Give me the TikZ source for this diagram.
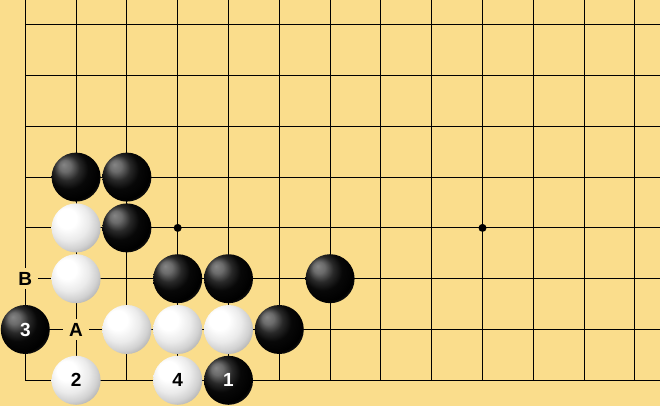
\documentclass[tikz,border=0pt]{standalone}
\usepackage{fontspec}
\setmainfont{Liberation Sans}
\definecolor{board}{RGB}{250,221,140}
\pgfdeclareradialshading{blackstone}{\pgfpoint{-13bp}{13bp}}{color(0bp)=(black!48); color(6bp)=(black!58); color(13bp)=(black!84); color(20bp)=(black!97); color(29bp)=(black); color(33bp)=(black!88); color(36bp)=(black!72); color(50bp)=(black!72)}
\pgfdeclareradialshading{whitestone}{\pgfpoint{-12bp}{12bp}}{color(0bp)=(white); color(10bp)=(white); color(20bp)=(black!8); color(27bp)=(black!18); color(32bp)=(black!30); color(35bp)=(black!45); color(50bp)=(black!45)}
\begin{document}
\begin{tikzpicture}[x=50.8pt,y=-50.8pt,ampersand replacement=\&,
  stone/.style={circle,minimum size=49pt,inner sep=0pt,outer sep=0pt,font=\bfseries\fontsize{19}{19}\selectfont},
  blackst/.style={stone,shading=blackstone,text=white},
  whitest/.style={stone,shading=whitestone,text=black},
  lbl/.style={fill=board,inner xsep=6pt,inner ysep=4pt,font=\bfseries\fontsize{19}{19}\selectfont},
  star/.style={circle,fill=black,inner sep=0pt,minimum size=8pt}]
\useasboundingbox[fill=board] (-25.3pt,24.7pt) rectangle (634.7pt,-381.3pt);
\foreach \i in {0,...,12} \draw[line width=1pt,line cap=rect] (\i,-0.5) -- (\i,7);
\foreach \j in {0,...,7} \draw[line width=1pt,line cap=rect] (0,\j) -- (12.5,\j);
\node[star] (s1) at (3,4) {};
\node[star] (s2) at (9,4) {};
\matrix (stones) [matrix anchor=b1.center,column sep=1.8pt,row sep=1.8pt] at (1,3)
{
   \& \node[blackst](b1){}; \& \node[blackst](b2){}; \&\&\&\& \\
   \& \node[whitest](w1){}; \& \node[blackst](b3){}; \&\&\&\& \\
  \node[lbl](B){B}; \& \node[whitest](w2){}; \& \& \node[blackst](b4){}; \& \node[blackst](b5){}; \& \& \node[blackst](b6){}; \\
  \node[blackst](b7){3}; \& \node[lbl](A){A}; \& \node[whitest](w3){}; \& \node[whitest](w4){}; \& \node[whitest](w5){}; \& \node[blackst](b8){}; \& \\
   \& \node[whitest](w6){2}; \& \& \node[whitest](w7){4}; \& \node[blackst](b9){1}; \&\& \\
};
\end{tikzpicture}
\end{document}
